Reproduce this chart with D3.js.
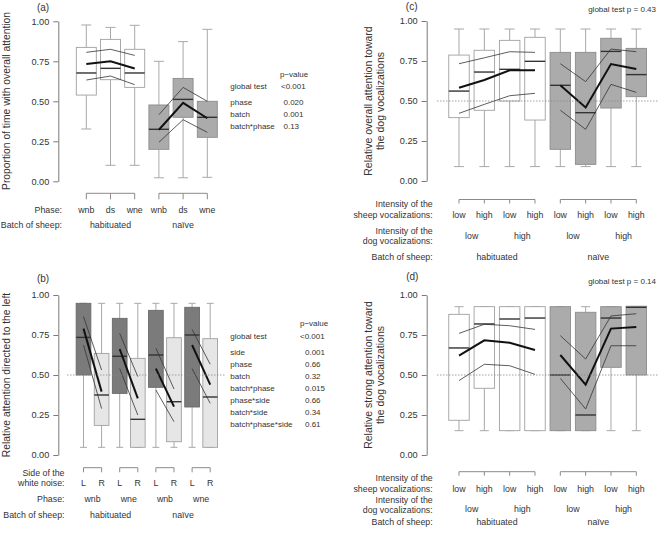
<!DOCTYPE html>
<html><head><meta charset="utf-8">
<script src="https://cdn.jsdelivr.net/npm/d3@7"></script>
<style>
body{margin:0;background:#fff}
svg{display:block}
text{font-family:"Liberation Sans",Arial,Helvetica,sans-serif;fill:#333}
</style>
</head><body>
<svg id="chart" width="658" height="536"></svg>
<script>
// ---------------- DATA ----------------
const tickValues = [0, 0.25, 0.5, 0.75, 1];

// Panel (a)
const aPhases = ["wnb", "ds", "wne", "wnb", "ds", "wne"];
const aBatches = ["habituated", "naïve"];
const aWhiskerHigh = [0.977, 0.962, 0.975, 0.75, 0.873, 0.95];
const aQ3 = [0.837, 0.887, 0.825, 0.477, 0.643, 0.5];
const aMedian = [0.677, 0.706, 0.677, 0.325, 0.512, 0.4];
const aQ1 = [0.539, 0.635, 0.587, 0.2, 0.4, 0.275];
const aWhiskerLow = [0.327, 0.1, 0.1, 0.022, 0.022, 0.025];
const aMean = [0.733, 0.75, 0.705, 0.322, 0.49, 0.394];
const aUpper = [0.806, 0.825, 0.787, 0.416, 0.587, 0.5];
const aLower = [0.633, 0.658, 0.604, 0.244, 0.385, 0.306];
const aTests = ["global test", "phase", "batch", "batch*phase"];
const aPvalues = ["<0.001", "0.020", "0.001", "0.13"];

// Panel (b)
const bSides = ["L", "R", "L", "R", "L", "R", "L", "R"];
const bPhases = ["wnb", "wne", "wnb", "wne"];
const bBatches = ["habituated", "naïve"];
const bWhiskerHigh = [0.948, 0.948, 0.948, 0.948, 0.948, 0.948, 0.948, 0.948];
const bQ3 = [0.948, 0.635, 0.854, 0.604, 0.904, 0.733, 0.923, 0.727];
const bMedian = [0.735, 0.375, 0.617, 0.223, 0.625, 0.333, 0.75, 0.3625];
const bQ1 = [0.5, 0.185, 0.385, 0.048, 0.423, 0.083, 0.3, 0.048];
const bWhiskerLow = [0.048, 0.048, 0.048, 0.048, 0.048, 0.048, 0.048, 0.048];
const bMean = [0.79, 0.396, 0.6625, 0.354, 0.54, 0.302, 0.6875, 0.44];
const bUpper = [0.865, 0.531, 0.76, 0.49, 0.667, 0.4125, 0.785, 0.567];
const bLower = [0.6875, 0.29, 0.54, 0.25, 0.406, 0.208, 0.54, 0.323];
const bTests = ["global test", "side", "phase", "batch", "batch*phase", "phase*side", "batch*side", "batch*phase*side"];
const bPvalues = ["<0.001", "0.001", "0.66", "0.32", "0.015", "0.66", "0.34", "0.61"];

// Panels (c) and (d)
const sheepIntensity = ["low", "high", "low", "high", "low", "high", "low", "high"];
const dogIntensity = ["low", "high", "low", "high"];
const cdBatches = ["habituated", "naïve"];

const cWhiskerHigh = [0.95, 0.95, 0.95, 0.95, 0.95, 0.95, 0.95, 0.95];
const cQ3 = [0.787, 0.817, 0.879, 0.898, 0.804, 0.804, 0.892, 0.829];
const cMedian = [0.562, 0.681, 0.698, 0.748, 0.598, 0.427, 0.81, 0.665];
const cQ1 = [0.396, 0.442, 0.5, 0.381, 0.198, 0.104, 0.456, 0.527];
const cWhiskerLow = [0.09, 0.09, 0.09, 0.09, 0.09, 0.09, 0.09, 0.09];
const cMean = [0.583, 0.631, 0.692, 0.692, 0.598, 0.46, 0.731, 0.7];
const cUpper = [0.733, 0.77, 0.808, 0.804, 0.733, 0.621, 0.825, 0.808];
const cLower = [0.423, 0.479, 0.533, 0.548, 0.442, 0.323, 0.604, 0.554];
const cGlobal = "global test p = 0.43";

const dWhiskerHigh = [0.927, 0.927, 0.927, 0.927, 0.927, 0.927, 0.927, 0.927];
const dQ3 = [0.879, 0.927, 0.927, 0.927, 0.927, 0.892, 0.927, 0.93];
const dMedian = [0.669, 0.819, 0.85, 0.856, 0.5, 0.25, 0.856, 0.923];
const dQ1 = [0.217, 0.417, 0.152, 0.152, 0.152, 0.152, 0.548, 0.5];
const dWhiskerLow = [0.152, 0.152, 0.152, 0.152, 0.152, 0.152, 0.152, 0.152];
const dMean = [0.621, 0.717, 0.702, 0.656, 0.625, 0.44, 0.79, 0.8];
const dUpper = [0.76, 0.817, 0.808, 0.785, 0.746, 0.6, 0.869, 0.883];
const dLower = [0.465, 0.567, 0.558, 0.504, 0.479, 0.2875, 0.683, 0.683];
const dGlobal = "global test p = 0.14";

// ---------------- DRAWING ----------------
const svg = d3.select("#chart");
const WHITE = "#ffffff", GRAY = "#ababab", DARK = "#7b7b7b", LIGHT = "#e6e6e6";

function txt(x, y, s, anchor, size, rot) {
  const t = svg.append("text").attr("x", x).attr("y", y).attr("dy", "0.35em")
    .attr("text-anchor", anchor || "middle").attr("font-size", size || 8.8).text(s);
  if (rot) t.attr("transform", `rotate(-90,${x},${y})`);
  return t;
}

function panel(cfg) {
  const n = cfg.med.length;
  const x = d3.scalePoint().domain(d3.range(n)).range(cfg.xRange);
  const y = d3.scaleLinear().domain([0, 1]).range(cfg.yRange);
  const g = svg.append("g");

  // axis
  const ax = g.append("g").attr("transform", `translate(${cfg.axisX},0)`)
    .call(d3.axisLeft(y).tickValues(tickValues).tickFormat(d3.format(".2f")).tickSize(5).tickSizeOuter(0).tickPadding(4));
  ax.select(".domain").attr("stroke", "#7a7a7a");
  ax.selectAll(".tick line").attr("stroke", "#7a7a7a");
  ax.selectAll(".tick text").attr("font-size", 9.2).attr("fill", "#444")
    .attr("font-family", '"Liberation Sans",Arial,sans-serif');

  const idx = d3.range(n);
  const bw = cfg.boxW, cw = cfg.capW;
  // whiskers
  g.selectAll(".wu").data(idx).join("line").attr("class", "wu")
    .attr("x1", i => x(i)).attr("x2", i => x(i))
    .attr("y1", i => y(cfg.q3[i])).attr("y2", i => y(cfg.hi[i]))
    .attr("stroke", "#a8a8a8");
  g.selectAll(".wl").data(idx).join("line").attr("class", "wl")
    .attr("x1", i => x(i)).attr("x2", i => x(i))
    .attr("y1", i => y(cfg.q1[i])).attr("y2", i => y(cfg.lo[i]))
    .attr("stroke", "#a8a8a8");
  ["hi", "lo"].forEach(k => {
    g.selectAll(".cap" + k).data(idx).join("line").attr("class", "cap" + k)
      .attr("x1", i => x(i) - cw / 2).attr("x2", i => x(i) + cw / 2)
      .attr("y1", i => y(cfg[k][i])).attr("y2", i => y(cfg[k][i]))
      .attr("stroke", "#a8a8a8");
  });
  // boxes
  g.selectAll(".box").data(idx).join("rect").attr("class", "box")
    .attr("x", i => x(i) - bw / 2).attr("width", bw)
    .attr("y", i => y(cfg.q3[i])).attr("height", i => y(cfg.q1[i]) - y(cfg.q3[i]))
    .attr("fill", i => cfg.fill(i)).attr("stroke", i => cfg.stroke(i)).attr("stroke-width", 0.9);
  g.selectAll(".med").data(idx).join("line").attr("class", "med")
    .attr("x1", i => x(i) - bw / 2).attr("x2", i => x(i) + bw / 2)
    .attr("y1", i => y(cfg.med[i])).attr("y2", i => y(cfg.med[i]))
    .attr("stroke", "#333").attr("stroke-width", 1.4);

  // mean and CI lines per group
  const line = d3.line().x(i => x(i));
  cfg.groups.forEach(grp => {
    [["upper", 0.8, "#333"], ["lower", 0.8, "#333"], ["mean", 2, "#111"]].forEach(([k, w, c]) => {
      g.append("path").attr("fill", "none").attr("stroke", c).attr("stroke-width", w)
        .attr("d", line.y(i => y(cfg[k][i]))(grp));
    });
  });

  // reference line
  if (cfg.refLine) {
    g.append("line").attr("x1", cfg.refLine[0]).attr("x2", cfg.refLine[1])
      .attr("y1", y(0.5)).attr("y2", y(0.5))
      .attr("stroke", "#888").attr("stroke-width", 0.8).attr("stroke-dasharray", "1.5,1.5");
  }

  // brackets
  cfg.groups.forEach(grp => {
    const y0 = cfg.bracketY, y1 = cfg.bracketY + cfg.bracketTick;
    g.append("line").attr("x1", x(grp[0])).attr("x2", x(grp[grp.length - 1]))
      .attr("y1", y0).attr("y2", y0).attr("stroke", "#8a8a8a");
    grp.forEach(i => g.append("line").attr("x1", x(i)).attr("x2", x(i))
      .attr("y1", y0).attr("y2", y1).attr("stroke", "#8a8a8a"));
  });
  return { x, y };
}

// ---- Panel (a)
const pa = panel({
  xRange: [86.3, 207.3], yRange: [181.3, 21.3], axisX: 58.3, boxW: 20, capW: 10,
  hi: aWhiskerHigh, q3: aQ3, med: aMedian, q1: aQ1, lo: aWhiskerLow,
  mean: aMean, upper: aUpper, lower: aLower,
  groups: [[0, 1, 2], [3, 4, 5]],
  fill: i => i < 3 ? WHITE : GRAY, stroke: i => i < 3 ? "#a0a0a0" : "#8c8c8c",
  bracketY: 193.3, bracketTick: 6
});
txt(43, 7, "(a)", "middle", 10);
txt(10.3, 101, "Proportion of time with overall attention", "middle", 10.3, true).attr("dy", "0");
txt(62, 210, "Phase:", "end");
aPhases.forEach((p, i) => txt(pa.x(i), 210, p));
txt(62, 225.3, "Batch of sheep:", "end");
aBatches.forEach((b, k) => txt((pa.x(k * 3) + pa.x(k * 3 + 2)) / 2, 225.3, b));
txt(280, 74, "p\u2212value", "start", 8);
aTests.forEach((t, k) => {
  const yy = k === 0 ? 86 : 90 + 12 * k;
  txt(230.3, yy, t, "start", 8);
  txt(aPvalues[k].startsWith("<") ? 281 : 283.5, yy, aPvalues[k], "start", 8);
});

// ---- Panel (b)
const pb = panel({
  xRange: [83.5, 210.2], yRange: [455, 295], axisX: 58.3, boxW: 14.7, capW: 7,
  hi: bWhiskerHigh, q3: bQ3, med: bMedian, q1: bQ1, lo: bWhiskerLow,
  mean: bMean, upper: bUpper, lower: bLower,
  groups: [[0, 1], [2, 3], [4, 5], [6, 7]],
  fill: i => i % 2 === 0 ? DARK : LIGHT, stroke: i => i % 2 === 0 ? "#6a6a6a" : "#a0a0a0",
  refLine: [67, 225], bracketY: 467.7, bracketTick: 4.6
});
txt(43, 278.3, "(b)", "middle", 10);
txt(10.3, 375, "Relative attention directed to the left", "middle", 10.3, true).attr("dy", "0");
txt(64.5, 472.7, "Side of the", "end");
txt(64.5, 483.3, "white noise:", "end");
bSides.forEach((s, i) => txt(pb.x(i), 483.3, s));
txt(64.5, 499.3, "Phase:", "end");
bPhases.forEach((p, k) => txt((pb.x(2 * k) + pb.x(2 * k + 1)) / 2, 499.3, p));
txt(64.5, 514.7, "Batch of sheep:", "end");
bBatches.forEach((b, k) => txt((pb.x(4 * k) + pb.x(4 * k + 3)) / 2, 514.7, b));
txt(300, 323.3, "p\u2212value", "start", 8);
bTests.forEach((t, k) => {
  const yy = k === 0 ? 335.7 : 339.7 + 12 * k;
  txt(230.3, yy, t, "start", 8);
  txt(bPvalues[k].startsWith("<") ? 300 : 305, yy, bPvalues[k], "start", 8);
});

// ---- Panels (c) and (d)
function cdLabels(p, base) {
  const L = 432.7;
  txt(L, base.int1, "Intensity of the", "end");
  txt(L, base.int1 + 11, "sheep vocalizations:", "end");
  sheepIntensity.forEach((s, i) => txt(p.x(i), base.int1 + 11, s));
  txt(L, base.int2, "Intensity of the", "end");
  txt(L, base.int2 + 10, "dog vocalizations:", "end");
  dogIntensity.forEach((s, k) => txt((p.x(2 * k) + p.x(2 * k + 1)) / 2, base.dog, s));
  txt(L, base.batch, "Batch of sheep:", "end");
  cdBatches.forEach((b, k) => txt((p.x(4 * k) + p.x(4 * k + 3)) / 2, base.batch, b));
}

const pc = panel({
  xRange: [459, 636.3], yRange: [181, 21], axisX: 426.7, boxW: 20.5, capW: 10,
  hi: cWhiskerHigh, q3: cQ3, med: cMedian, q1: cQ1, lo: cWhiskerLow,
  mean: cMean, upper: cUpper, lower: cLower,
  groups: [[0, 1, 2, 3], [4, 5, 6, 7]],
  fill: i => i < 4 ? WHITE : GRAY, stroke: i => i < 4 ? "#a0a0a0" : "#8c8c8c",
  refLine: [437, 658], bracketY: 199.5, bracketTick: 4
});
txt(411.7, 6.5, "(c)", "middle", 10);
txt(656, 9, cGlobal, "end", 8);
txt(371.5, 101, "Relative overall attention toward", "middle", 10.5, true).attr("dy", "0");
txt(383.5, 101, "the dog vocalizations", "middle", 10.5, true).attr("dy", "0");
cdLabels(pc, { int1: 204, int2: 230.7, dog: 236, batch: 257.3 });

const pd = panel({
  xRange: [459, 636.3], yRange: [455, 295], axisX: 426.7, boxW: 20.5, capW: 9,
  hi: dWhiskerHigh, q3: dQ3, med: dMedian, q1: dQ1, lo: dWhiskerLow,
  mean: dMean, upper: dUpper, lower: dLower,
  groups: [[0, 1, 2, 3], [4, 5, 6, 7]],
  fill: i => i < 4 ? WHITE : GRAY, stroke: i => i < 4 ? "#a0a0a0" : "#8c8c8c",
  refLine: [437, 658], bracketY: 471.7, bracketTick: 4
});
txt(412.3, 276.7, "(d)", "middle", 10);
txt(656, 280.7, dGlobal, "end", 8);
txt(371.5, 375, "Relative strong attention toward", "middle", 10.5, true).attr("dy", "0");
txt(383.5, 375, "the dog vocalizations", "middle", 10.5, true).attr("dy", "0");
cdLabels(pd, { int1: 478.3, int2: 499.7, dog: 509.3, batch: 521.7 });
</script>
</body></html>
